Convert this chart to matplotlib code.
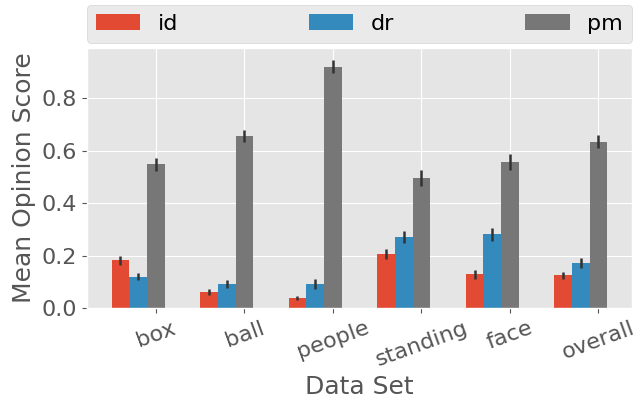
import numpy as np
import matplotlib
matplotlib.use('Agg')
import matplotlib.pyplot as plt

plt.style.use('ggplot')

# data sets and scores
datasets = ['box', 'ball', 'people', 'standing', 'face', 'overall']
id_mean = [0.183, 0.060, 0.038, 0.206, 0.129, 0.125]
dr_mean = [0.120, 0.093, 0.093, 0.271, 0.281, 0.172]
pm_mean = [0.548, 0.658, 0.920, 0.495, 0.557, 0.635]
id_err = [0.017, 0.011, 0.009, 0.019, 0.017, 0.014]
dr_err = [0.014, 0.015, 0.019, 0.022, 0.024, 0.020]
pm_err = [0.026, 0.023, 0.025, 0.030, 0.030, 0.025]

x = np.arange(len(datasets))
w = 0.2

fig = plt.figure(figsize=(6.43, 4), dpi=100)
ax = fig.add_axes([0.135, 0.23, 0.848, 0.65])

ekw = dict(ecolor='#333333', elinewidth=1.8, capsize=0)
ax.bar(x, id_mean, w, yerr=id_err, color='#E24A33', label='id', error_kw=ekw)
ax.bar(x + w, dr_mean, w, yerr=dr_err, color='#348ABD', label='dr', error_kw=ekw)
ax.bar(x + 2 * w, pm_mean, w, yerr=pm_err, color='#777777', label='pm', error_kw=ekw)

ax.set_xticks(x + 2 * w)
ax.set_xticklabels(datasets, rotation=20, fontsize=16)
ax.tick_params(axis='y', labelsize=16)
ax.set_yticks([0.0, 0.2, 0.4, 0.6, 0.8])
ax.set_xlabel('Data Set', fontsize=18)
ax.set_ylabel('Mean Opinion Score', fontsize=18)

ax.legend(bbox_to_anchor=(0, 1.02, 1, 0.1), loc='lower left', mode='expand',
          ncol=3, borderaxespad=0, fontsize=16)

fig.savefig('out.png', dpi=100)
